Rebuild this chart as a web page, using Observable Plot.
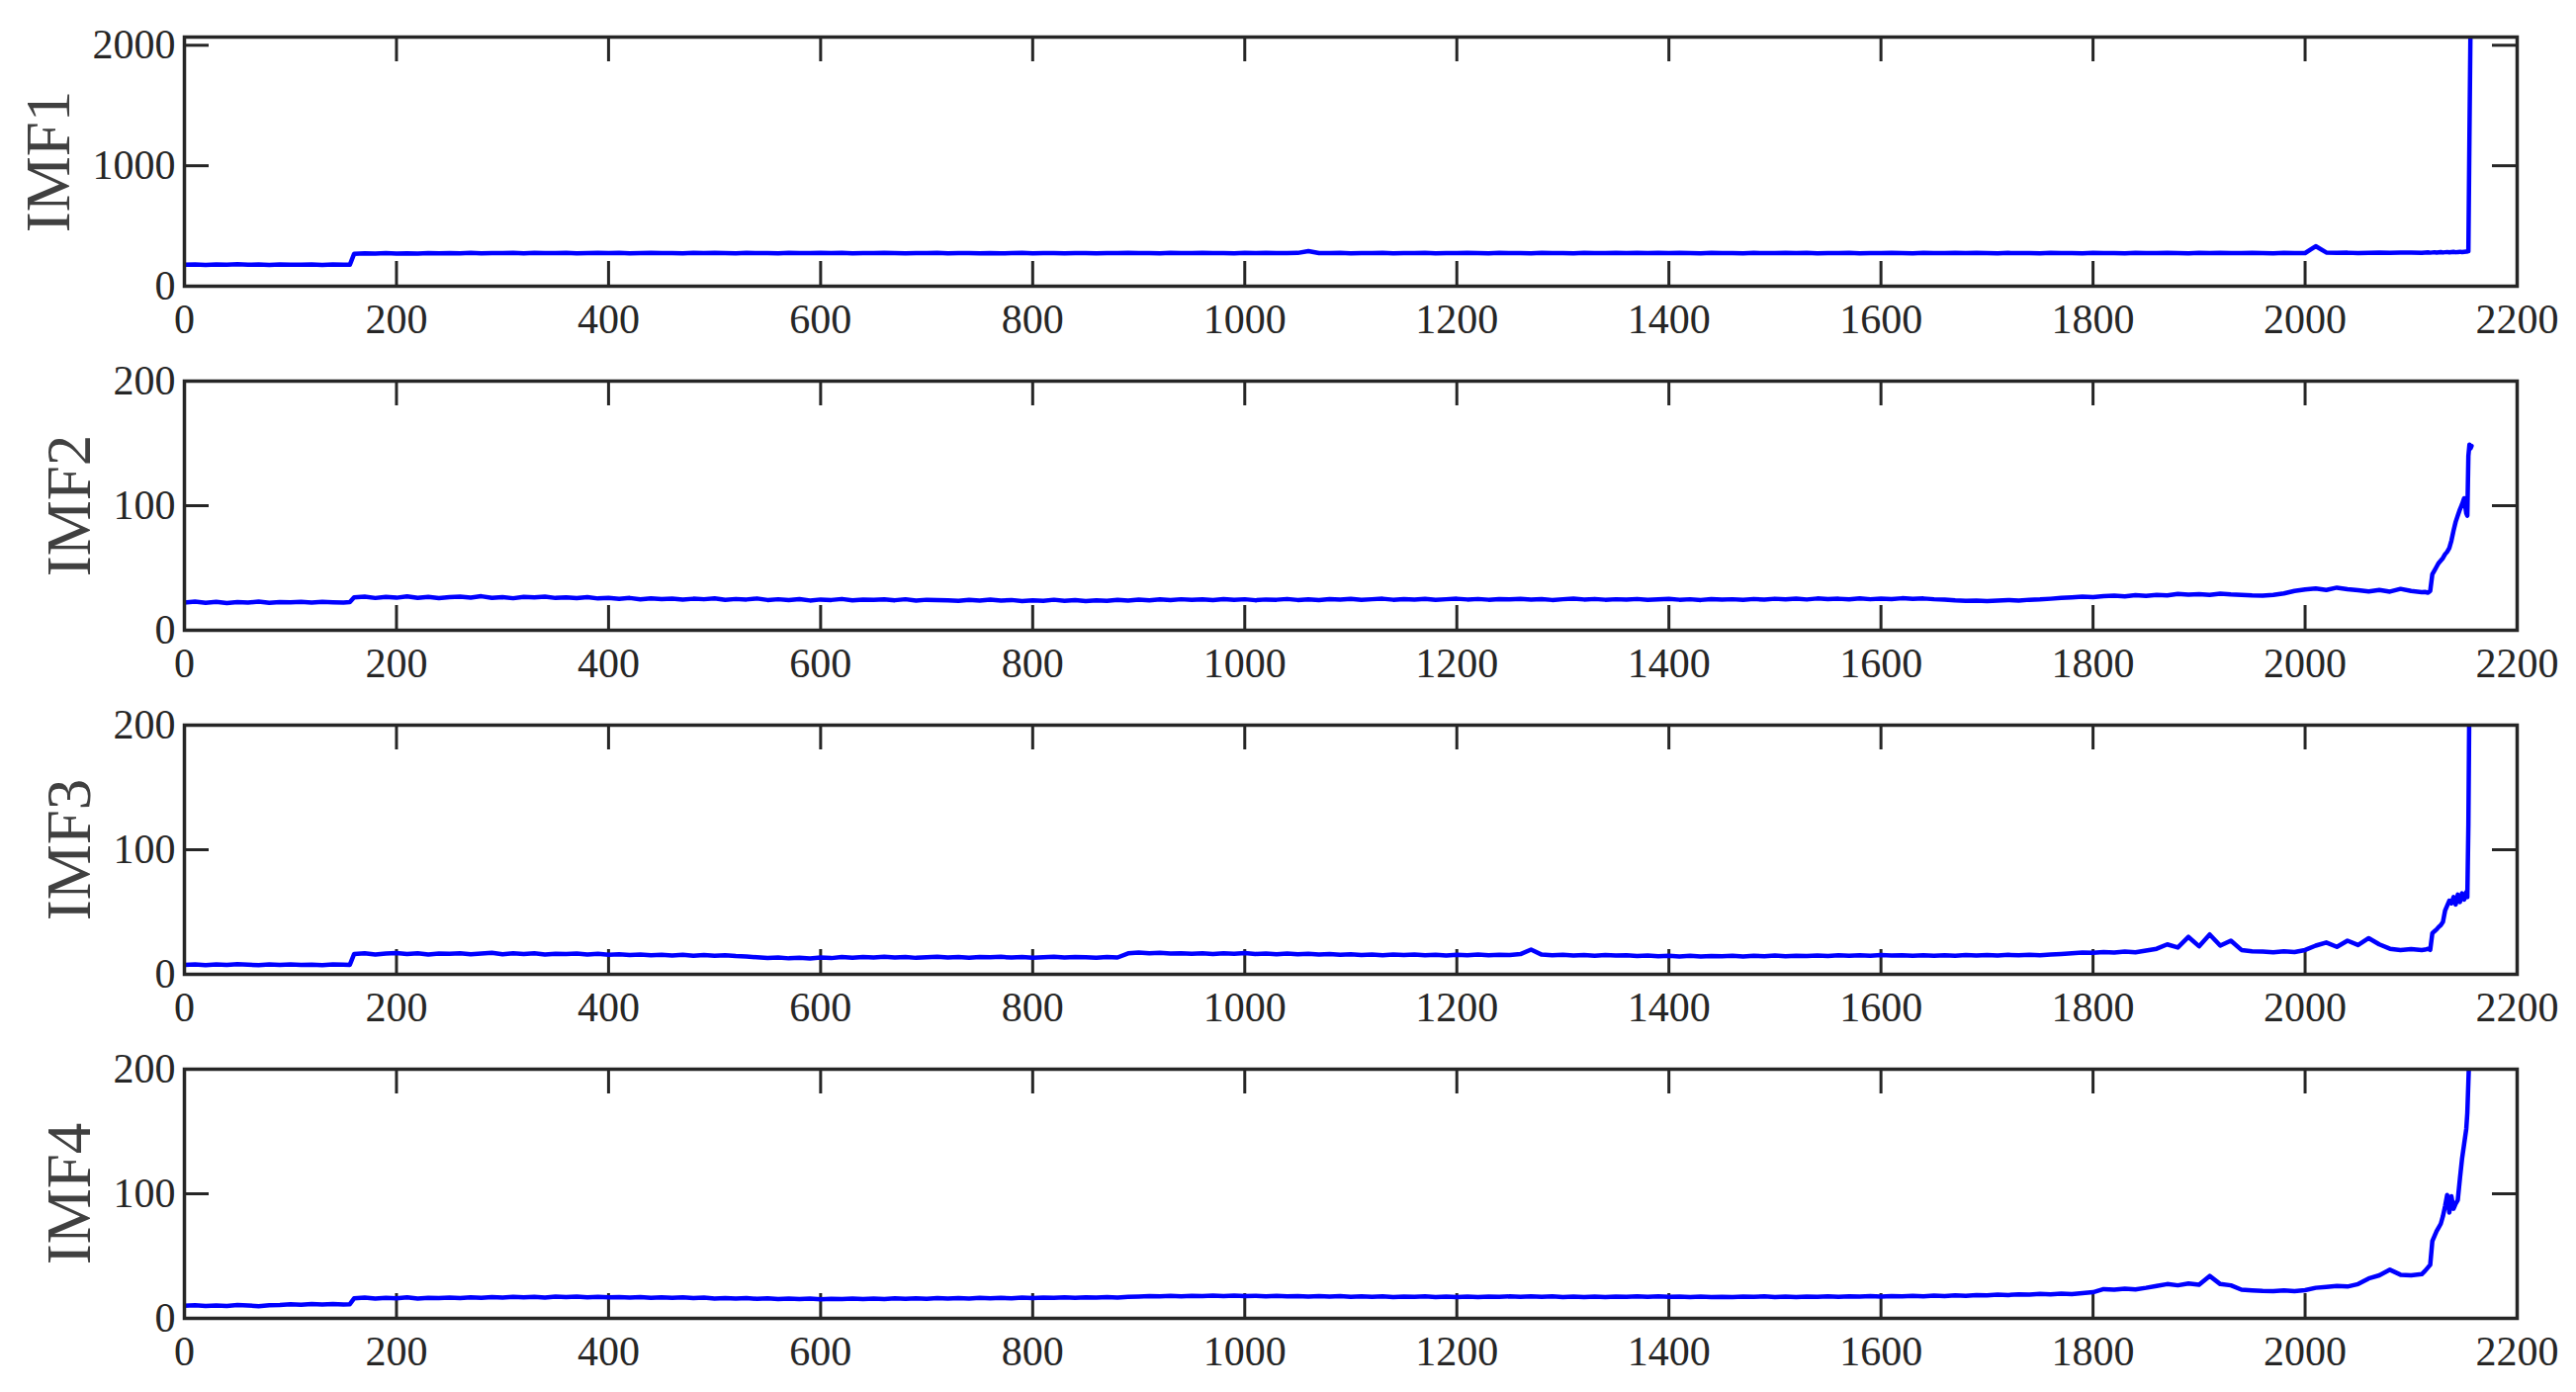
<!DOCTYPE html>
<html><head><meta charset="utf-8">
<script src="https://cdn.jsdelivr.net/npm/d3@7"></script>
<script src="https://cdn.jsdelivr.net/npm/@observablehq/plot@0.6"></script>
<style>
html,body{margin:0;padding:0;background:#fff;}
#chart{position:relative;width:2605px;height:1408px;background:#fff;overflow:hidden;}
#chart > svg{position:absolute;left:0;}
</style></head><body><div id="chart"></div>
<script>
// ---- sample positions ----
const xHead = [0,10,20,30,40,50,60,70,80,90,100,110,120,130,140,150,156];
const xBody = d3.range(160, 2120, 10); // 160 ... 2110
const xTail = [2113,2116,2118,2120,2122,2124,2126,2128,2130,2132,2134,2136,2138,2140,2142,2144,2146,2148,2150,2152,2153,2154,2155,2156,2157];

// ---- axis ticks ----
const xTicks = [0,200,400,600,800,1000,1200,1400,1600,1800,2000,2200];
const yTicks1 = [0,1000,2000];
const yTicks = [0,100,200];
const labels = ["IMF1","IMF2","IMF3","IMF4"];

// ---- IMF1 ----
const imf1Head = [178,181,177,180,179,182,178,180,177,181,179,178,181,177,180,179,178];
const imf1Body = [
268,272,270,274,271,273,270,275,272,274,
273,276,272,275,274,277,273,276,275,274,
276,273,275,277,274,276,273,275,277,274,
275,273,276,274,277,275,273,276,274,275,
273,276,274,275,277,274,276,273,275,274,
276,274,273,275,274,276,273,275,274,273,
275,273,274,276,273,275,274,273,275,274,
273,275,274,276,274,275,273,276,274,275,
276,274,275,273,276,274,277,275,274,276,
292,275,274,276,273,275,274,276,273,275,
274,276,273,275,274,276,275,273,276,274,
275,273,276,274,275,273,276,274,275,277,
274,276,275,277,274,276,275,273,276,274,
275,273,276,274,275,277,274,276,273,275,
274,276,273,275,274,276,275,273,276,274,
275,277,274,276,275,273,276,274,275,273,
276,274,275,273,276,274,275,273,276,275,
274,276,275,273,276,274,277,275,274,276,
275,273,276,274,275,332,280,276,278,275,
277,279,276,278,280,277];
const imf1Tail = [279,281,278,280,282,279,281,283,280,282,284,281,283,285,282,284,286,283,285,287,288,290,1250,2150,2600];

// ---- IMF2 ----
const imf2Head = [22.3,23.0,22.1,22.8,21.9,22.6,22.2,23.1,22.0,22.7,22.4,22.9,22.2,22.8,22.5,22.3,22.6];
const imf2Body = [
26.4,27.0,25.9,26.8,26.1,27.2,26.0,26.7,25.8,26.5,
26.9,26.2,27.3,26.0,26.6,25.7,26.8,26.3,27.0,25.9,
26.4,25.8,26.6,25.5,26.0,25.2,25.9,24.8,25.6,25.0,
25.4,24.6,25.3,24.9,25.6,24.4,25.1,24.7,25.5,24.3,
24.9,24.2,25.0,23.9,24.7,24.3,25.1,24.0,24.6,24.4,
24.8,24.1,24.9,23.8,24.5,24.2,24.0,23.7,24.4,23.9,
24.6,23.8,24.3,23.5,24.1,23.7,24.5,23.6,24.2,23.4,
24.0,23.6,24.4,23.8,24.6,24.1,24.8,24.3,24.9,24.5,
24.8,24.2,25.0,24.4,24.9,24.1,24.7,24.5,25.1,24.3,
24.8,24.2,25.0,24.6,25.2,24.4,24.9,25.3,24.5,25.0,
24.6,25.2,24.4,24.9,25.3,24.7,25.1,24.5,25.0,24.8,
25.2,24.6,25.0,24.3,24.9,25.4,24.7,25.1,24.5,24.9,
24.6,25.1,24.4,24.8,25.2,24.5,24.9,24.3,25.0,24.6,
24.9,24.4,25.1,24.6,25.3,24.8,25.4,24.7,25.5,25.0,
25.3,24.8,25.6,24.9,25.4,25.0,25.7,25.2,25.5,24.9,
24.6,24.0,23.6,23.9,23.4,23.8,24.2,23.9,24.5,24.8,
25.3,25.9,26.4,27.0,26.6,27.4,27.8,27.2,28.1,27.6,
28.4,28.0,29.2,28.6,29.0,28.3,29.4,28.8,28.4,28.0,
27.8,28.4,29.6,31.5,32.8,33.6,32.4,34.2,33.0,32.2,
31.2,32.4,31.0,33.2,31.5,30.6];
const imf2Tail = [30.8,30.2,31.5,45,48,51,54,56,58,61,63,66,72,80,87,92,97,101,106,94,92,140,149,146,148];

// ---- IMF3 ----
const imf3Head = [7.6,8.0,7.4,7.9,7.5,8.1,7.7,7.3,7.9,7.6,8.0,7.5,7.8,7.4,7.9,7.7,7.6];
const imf3Body = [
16.2,16.9,15.8,16.6,17.1,16.3,16.8,15.9,16.7,16.4,
16.9,16.1,16.6,17.2,16.0,16.8,16.3,16.9,15.9,16.5,
16.2,16.7,15.8,16.4,15.6,16.1,15.4,15.9,15.2,15.7,
15.1,15.6,14.8,15.4,14.9,15.3,14.6,14.2,13.6,13.1,
13.4,12.8,13.2,12.7,13.5,13.0,13.8,13.3,13.9,13.5,
14.0,13.4,13.9,13.2,13.7,14.1,13.5,13.8,13.3,13.9,
13.6,14.0,13.4,13.8,13.2,13.7,14.0,13.5,13.9,13.6,
13.3,13.8,13.5,16.8,17.5,16.9,17.3,16.6,16.9,16.4,
16.8,16.2,16.9,16.5,17.1,16.3,16.7,16.1,16.6,16.0,
16.4,15.8,16.3,15.6,16.1,15.5,15.9,15.3,15.8,15.4,
15.9,15.3,15.7,15.1,15.6,15.2,15.8,15.3,15.7,15.4,
16.2,19.8,15.8,15.2,15.6,15.0,15.5,14.9,15.4,15.0,
15.3,14.7,15.1,14.5,14.9,14.3,14.8,14.2,14.7,14.4,
14.8,14.3,14.9,14.4,15.0,14.5,14.9,14.6,15.1,14.7,
15.2,14.8,15.3,14.9,15.4,15.0,15.3,14.8,15.2,14.9,
15.3,14.9,15.4,15.0,15.5,15.1,15.6,15.2,15.7,15.3,
15.8,16.3,16.9,17.5,17.2,17.9,17.4,18.2,17.6,19.0,
20.5,24.0,21.5,30.0,22.5,32.0,23.0,27.0,19.5,18.5,
18.2,17.6,18.4,17.9,19.5,23.0,25.5,22.0,27.0,23.5,
29.0,24.0,20.5,19.5,20.2,19.4];
const imf3Tail = [19.8,20.5,19.6,33,34.5,36,38,39.5,42,51,55,59,57,62,56,64,58,65,60,66,62,120,230,280,300];

// ---- IMF4 ----
const imf4Head = [10.2,10.6,9.9,10.4,10.0,10.7,10.3,9.8,10.5,10.8,11.3,11.0,11.6,11.2,11.5,11.1,11.4];
const imf4Body = [
16.0,16.6,15.8,16.4,16.1,16.8,15.9,16.5,16.2,16.7,
16.3,16.9,16.4,17.1,16.6,17.3,16.8,17.2,16.7,17.4,
17.0,17.5,16.9,17.3,16.8,17.1,16.6,17.0,16.5,16.9,
16.4,16.8,16.2,16.6,15.9,16.3,15.8,16.2,15.6,16.0,
15.5,15.9,15.4,15.8,15.3,15.7,15.5,15.9,15.4,15.8,
15.5,16.0,15.6,16.1,15.7,16.2,15.8,16.3,15.9,16.4,
16.0,16.5,16.1,16.6,16.2,16.7,16.4,16.8,16.5,16.9,
16.6,17.0,16.7,17.2,17.5,17.9,17.6,18.0,17.7,18.1,
17.8,18.2,17.9,18.3,17.8,18.1,17.7,18.0,17.6,17.9,
17.5,17.9,17.4,17.8,17.3,17.7,17.2,17.6,17.1,17.5,
17.2,17.6,17.1,17.5,17.0,17.4,17.1,17.5,17.2,17.6,
17.3,17.7,17.2,17.6,17.1,17.5,17.0,17.4,17.1,17.5,
17.2,17.6,17.3,17.7,17.2,17.5,17.1,17.4,17.0,17.3,
17.1,17.5,17.2,17.6,17.0,17.4,17.1,17.5,17.2,17.6,
17.3,17.7,17.4,17.8,17.5,17.9,17.6,18.0,17.7,18.2,
17.9,18.4,18.1,18.7,18.4,19.0,18.7,19.3,19.0,19.6,
19.3,19.8,19.5,20.2,21.0,23.5,23.0,23.8,23.2,24.5,
26.0,27.5,26.5,28.0,27.0,34.0,27.5,26.5,23.0,22.5,
22.0,21.8,22.4,21.9,22.6,24.5,25.2,26.0,25.5,27.5,
32.0,34.5,39.0,35.0,34.5,35.5];
const imf4Tail = [38,41,43,62,66,70,73,76,82,90,99,85,98,88,92,95,112,128,140,152,165,190,215,240,260];

// ---- layout ----
const W = 2605, ML = 186, MR = 60, MT = 20, PH = 252, MB = 62;
const PW = W - ML - MR;
const INK = "#262626";

const panels = [
  {label: labels[0], head: imf1Head, body: imf1Body, tail: imf1Tail, yMax: 2068, yt: yTicks1, top: 37, labelX: 49},
  {label: labels[1], head: imf2Head, body: imf2Body, tail: imf2Tail, yMax: 200, yt: yTicks, top: 385, labelX: 70},
  {label: labels[2], head: imf3Head, body: imf3Body, tail: imf3Tail, yMax: 200, yt: yTicks, top: 733, labelX: 70},
  {label: labels[3], head: imf4Head, body: imf4Body, tail: imf4Tail, yMax: 200, yt: yTicks, top: 1081, labelX: 70}
];

const chart = document.getElementById("chart");
for (const p of panels) {
  if (p.head.length !== xHead.length || p.body.length !== xBody.length || p.tail.length !== xTail.length)
    throw new Error(p.label + " length mismatch");
  const rows = [];
  xHead.forEach((x, i) => rows.push({x, y: p.head[i]}));
  xBody.forEach((x, i) => rows.push({x, y: p.body[i]}));
  xTail.forEach((x, i) => rows.push({x, y: p.tail[i]}));

  const svg = Plot.plot({
    width: W,
    height: MT + PH + MB,
    marginLeft: ML, marginRight: MR, marginTop: MT, marginBottom: MB,
    style: {fontFamily: "'Liberation Serif', 'Times New Roman', serif", fontSize: "42px", color: INK, background: "transparent", overflow: "visible"},
    x: {domain: [0, 2200], nice: false},
    y: {domain: [0, p.yMax], nice: false},
    marks: [
      Plot.tickX(xTicks, {x: d => d, insetTop: PH - 25, stroke: INK, strokeWidth: 3}),
      Plot.tickX(xTicks, {x: d => d, insetBottom: PH - 25, stroke: INK, strokeWidth: 3}),
      Plot.tickY(p.yt, {y: d => d, insetRight: PW - 25, stroke: INK, strokeWidth: 3}),
      Plot.tickY(p.yt, {y: d => d, insetLeft: PW - 25, stroke: INK, strokeWidth: 3}),
      Plot.axisX(xTicks, {anchor: "bottom", tickSize: 0, tickPadding: 18, fontSize: 42, fill: INK, tickFormat: d => String(d), label: null}),
      Plot.axisY(p.yt, {anchor: "left", tickSize: 0, tickPadding: 9, fontSize: 42, fill: INK, tickFormat: d => String(d), label: null}),
      Plot.text([p.label], {frameAnchor: "left", text: d => d, rotate: -90, textAnchor: "middle", lineAnchor: "middle", dx: p.labelX - ML, fontSize: 63, fill: "#404040"}),
      Plot.line(rows, {x: "x", y: "y", stroke: "#0000ff", strokeWidth: 4.5, clip: true, strokeLinejoin: "round"}),
      Plot.frame({stroke: INK, strokeWidth: 3.5})
    ]
  });
  svg.style.top = (p.top - MT) + "px";
  chart.appendChild(svg);
}
</script>
</body></html>
